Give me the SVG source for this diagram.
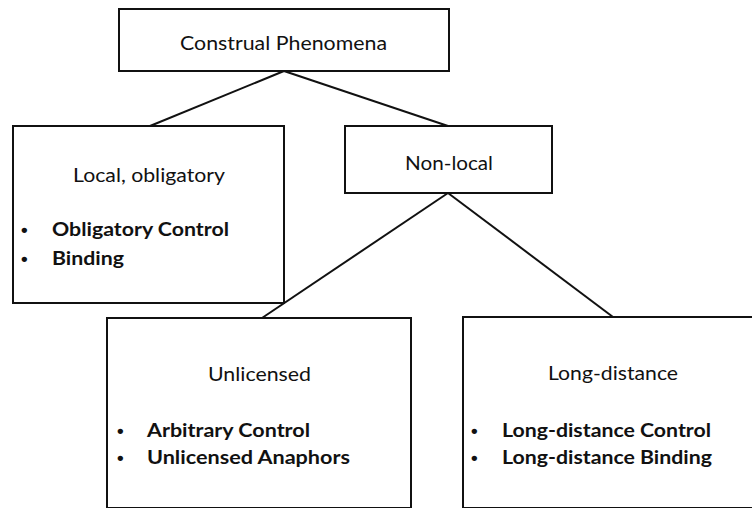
<svg xmlns="http://www.w3.org/2000/svg" width="752" height="508" viewBox="0 0 752 508">
<style>
.box{fill:#fff;stroke:#111;stroke-width:2}
.edge{stroke:#111;stroke-width:2;fill:none}
.t{font-family:Lato,"Open Sans","Liberation Sans",sans-serif;font-size:18.5px;fill:#111}
.b{font-family:Lato,"Open Sans","Liberation Sans",sans-serif;font-size:18.5px;font-weight:bold;fill:#111}
.bul{font-family:"Liberation Sans",sans-serif;font-size:19px;font-weight:bold;fill:#111}
</style>
<rect width="752" height="508" fill="#fff"/>
<g id="connectors">
<line class="edge" x1="284" y1="71" x2="150" y2="126"/>
<line class="edge" x1="284" y1="71" x2="448" y2="126"/>
<line class="edge" x1="448" y1="193" x2="262" y2="318"/>
<line class="edge" x1="448" y1="193" x2="613" y2="317"/>
</g>
<g id="construal">
<rect class="box" x="119" y="9" width="330" height="62"/>
<text class="t" x="180" y="50" textLength="207" lengthAdjust="spacingAndGlyphs">Construal Phenomena</text>
</g>
<g id="local">
<rect class="box" x="13" y="126" width="271" height="177"/>
<text class="t" x="73" y="182" textLength="152" lengthAdjust="spacingAndGlyphs">Local, obligatory</text>
<text class="bul" x="21" y="236">•</text>
<text class="b" x="52" y="236" textLength="177" lengthAdjust="spacingAndGlyphs">Obligatory Control</text>
<text class="bul" x="21" y="265">•</text>
<text class="b" x="52" y="265" textLength="72" lengthAdjust="spacingAndGlyphs">Binding</text>
</g>
<g id="nonlocal">
<rect class="box" x="345" y="126" width="207" height="67"/>
<text class="t" x="405" y="170" textLength="88" lengthAdjust="spacingAndGlyphs">Non-local</text>
</g>
<g id="unlicensed">
<rect class="box" x="107" y="318" width="304" height="190"/>
<text class="t" x="208" y="381" textLength="103" lengthAdjust="spacingAndGlyphs">Unlicensed</text>
<text class="bul" x="117" y="437">•</text>
<text class="b" x="147" y="437" textLength="163" lengthAdjust="spacingAndGlyphs">Arbitrary Control</text>
<text class="bul" x="117" y="464">•</text>
<text class="b" x="147" y="464" textLength="203" lengthAdjust="spacingAndGlyphs">Unlicensed Anaphors</text>
</g>
<g id="longdistance">
<rect class="box" x="463" y="317" width="300" height="191"/>
<text class="t" x="548" y="380" textLength="130" lengthAdjust="spacingAndGlyphs">Long-distance</text>
<text class="bul" x="471" y="437">•</text>
<text class="b" x="502" y="437" textLength="209" lengthAdjust="spacingAndGlyphs">Long-distance Control</text>
<text class="bul" x="471" y="464">•</text>
<text class="b" x="502" y="464" textLength="210" lengthAdjust="spacingAndGlyphs">Long-distance Binding</text>
</g>
</svg>
